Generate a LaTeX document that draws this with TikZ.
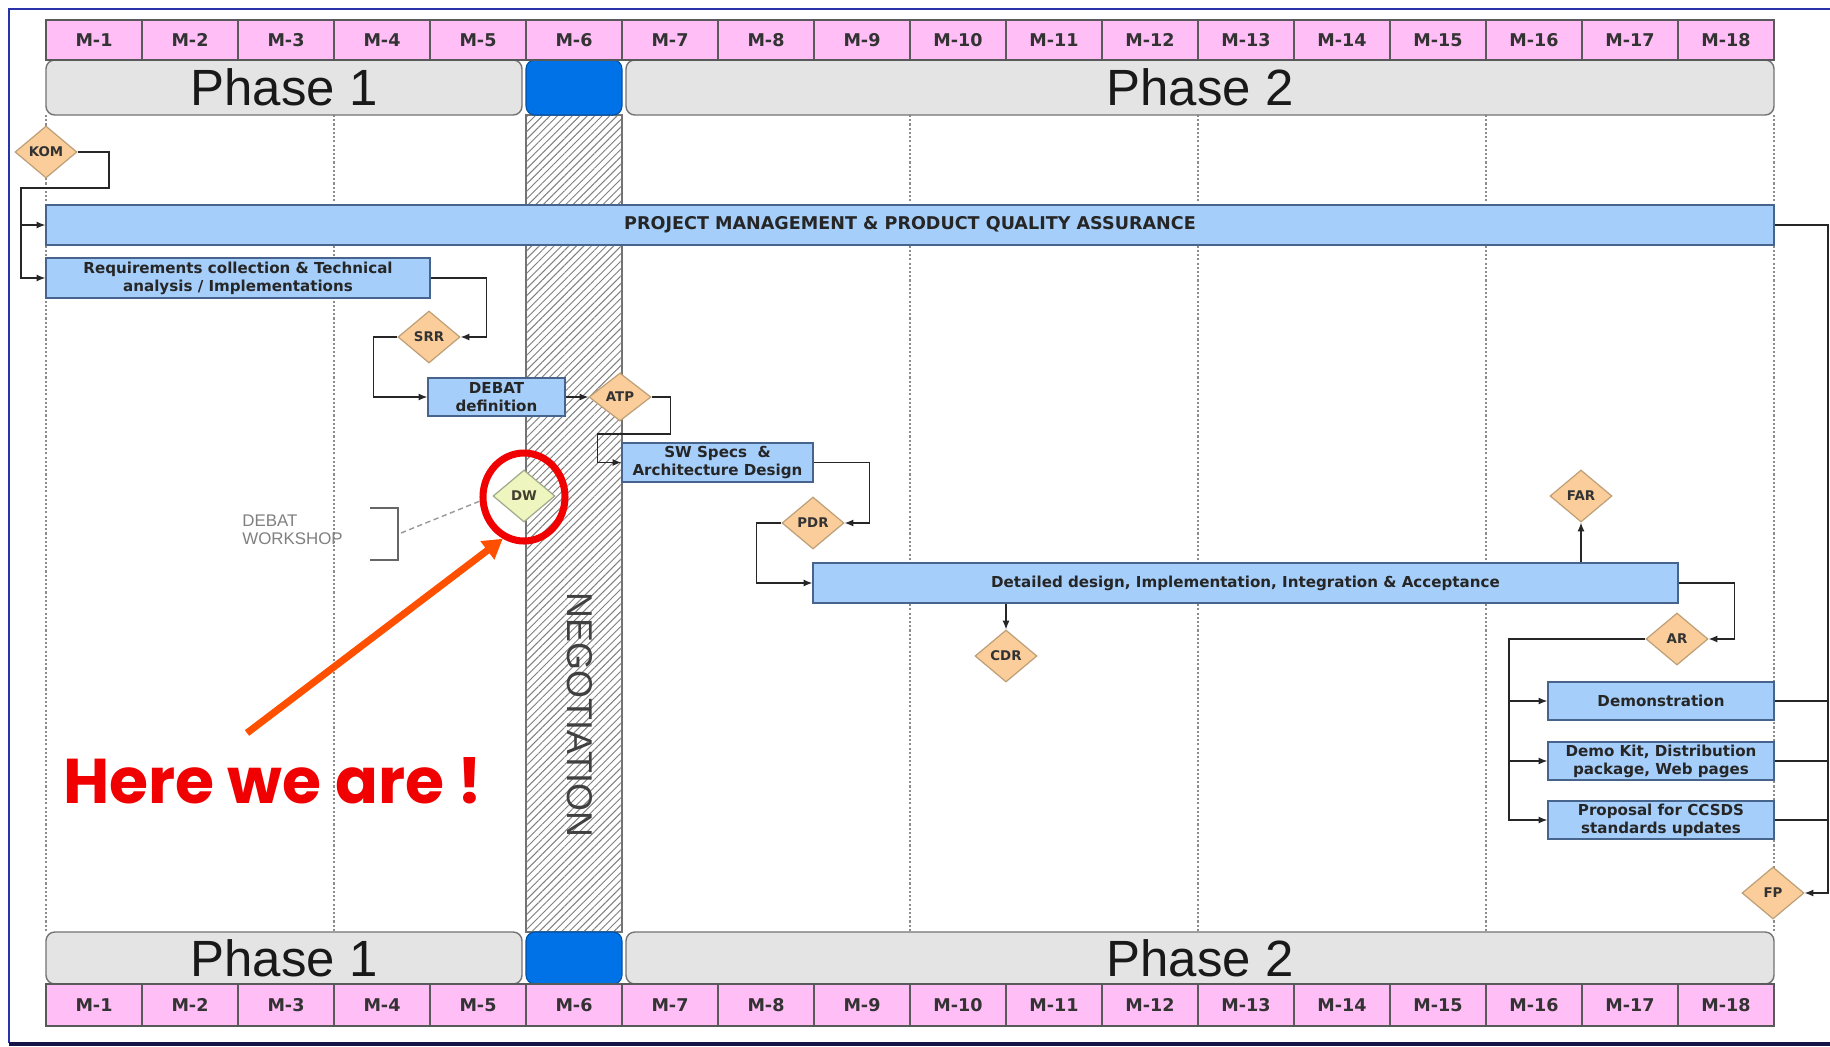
\documentclass[tikz,border=0pt]{standalone}
\usepackage{fontspec}
\setmainfont{DejaVu Sans}
\newfontfamily\arialfont{Liberation Sans}
\newfontfamily\handfont{Poppins}
\usetikzlibrary{shapes.geometric,arrows.meta,patterns.meta,calc}

\newdimen\pxu \pxu=0.02cm

\definecolor{monthpink}{RGB}{255,190,246}
\definecolor{phasegray}{RGB}{228,228,228}
\definecolor{negblue}{RGB}{0,114,232}
\definecolor{taskblue}{RGB}{166,206,250}
\definecolor{taskedge}{RGB}{70,100,140}
\definecolor{milefill}{RGB}{251,205,155}
\definecolor{mileedge}{RGB}{190,160,120}
\definecolor{dwfill}{RGB}{238,245,190}
\definecolor{dwedge}{RGB}{160,170,140}
\definecolor{framecol}{RGB}{40,50,170}
\definecolor{framedark}{RGB}{20,20,70}
\definecolor{pointer}{RGB}{255,80,0}
\definecolor{ringred}{RGB}{240,0,0}

\tikzset{
  month/.style={draw=black!65, fill=monthpink, line width=0.7pt, minimum width=96\pxu,
    minimum height=40\pxu, inner sep=0, font=\fontsize{10}{12}\selectfont\bfseries, text=black!80},
  phasebar/.style={draw=black!55, fill=phasegray, rounded corners=5pt, line width=0.8pt,
    minimum height=55\pxu, inner sep=0, font=\arialfont\fontsize{29}{30}\selectfont, text=black!90},
  negbox/.style={draw=negblue!70!black, fill=negblue, rounded corners=5pt, line width=0.6pt,
    minimum height=55\pxu, minimum width=96\pxu, inner sep=0},
  task/.style={draw=taskedge, fill=taskblue, line width=0.8pt, inner sep=0, align=center,
    font=\fontsize{8.6}{10.2}\selectfont\bfseries, text=black!85},
  mile/.style={diamond, draw=mileedge, fill=milefill, line width=0.7pt, inner sep=0,
    minimum width=62\pxu, minimum height=52\pxu, font=\fontsize{7.6}{9}\selectfont\bfseries, text=black!80},
  conn/.style={draw=black!85, line width=0.7pt, -{Latex[length=5pt,width=4pt]}},
  link/.style={draw=black!85, line width=0.7pt},
  gridline/.style={draw=black!45, line width=0.6pt, dash pattern=on 1.2pt off 1.2pt},
}

\begin{document}
\begin{tikzpicture}[x=0.02cm,y=-0.02cm]
  \useasboundingbox (0,0) rectangle (1830,1046);
  \fill[white] (0,0) rectangle (1830,1046);

  % outer frame
  \draw[draw=framecol, line width=1.2pt] (9,1043) -- (9,9) -- (1840,9);
  \draw[draw=framedark, line width=2.4pt] (9,1044) -- (1840,1044);

  % quarter grid
  \foreach \gx in {46,334,910,1198,1486,1774}
    \draw[gridline] (\gx,115) -- (\gx,932);

  % negotiation band
  \node[draw=black!55, line width=0.7pt, pattern={Lines[angle=45,distance=3pt,line width=0.55pt]},
        pattern color=black!50, minimum width=96\pxu, minimum height=817\pxu, inner sep=0]
        (neg) at (574,523.5) {};
  \node[rotate=-90, inner sep=0, font=\arialfont\fontsize{20.4}{22}\selectfont, text=black!75]
        (negtext) at (580,715) {NEGOTIATION};

  % phase bars
  \node[phasebar, minimum width=476\pxu] (p1top) at (284,87.5) {Phase 1};
  \node[negbox] (ntop) at (574,87.5) {};
  \node[phasebar, minimum width=1148\pxu] (p2top) at (1200,87.5) {Phase 2};
  \node[phasebar, minimum width=476\pxu, minimum height=52\pxu] (p1bot) at (284,958) {Phase 1};
  \node[negbox, minimum height=52\pxu] (nbot) at (574,958) {};
  \node[phasebar, minimum width=1148\pxu, minimum height=52\pxu] (p2bot) at (1200,958) {Phase 2};

  % month rows
  \foreach \i in {1,...,18} {
    \node[month] (mt\i) at ({94+96*(\i-1)},40) {M-\i};
    \node[month, minimum height=42\pxu] (mb\i) at ({94+96*(\i-1)},1005) {M-\i};
  }

  % activities
  \node[task, minimum width=1728\pxu, minimum height=40\pxu, font=\fontsize{10}{12}\selectfont\bfseries]
        (PM) at (910,225) {PROJECT MANAGEMENT \& PRODUCT QUALITY ASSURANCE};
  \node[task, minimum width=384\pxu, minimum height=40\pxu] (Req) at (238,278)
        {Requirements collection \& Technical\\analysis / Implementations};
  \node[task, minimum width=137\pxu, minimum height=38\pxu] (DEBAT) at (496.5,397) {DEBAT\\definition};
  \node[task, minimum width=191\pxu, minimum height=39\pxu] (SW) at (717.5,462.5)
        {SW Specs~~\&\\Architecture Design};
  \node[task, minimum width=865\pxu, minimum height=40\pxu] (Det) at (1245.5,583)
        {Detailed design, Implementation, Integration \& Acceptance};
  \node[task, minimum width=226\pxu, minimum height=38\pxu] (Demo) at (1661,701) {Demonstration};
  \node[task, minimum width=226\pxu, minimum height=38\pxu] (Kit) at (1661,761)
        {Demo Kit, Distribution\\package, Web pages};
  \node[task, minimum width=226\pxu, minimum height=38\pxu] (Prop) at (1661,820)
        {Proposal for CCSDS\\standards updates};

  % milestones
  \node[mile] (KOM) at (46,152) {KOM};
  \node[mile] (SRR) at (429,337) {SRR};
  \node[mile, minimum height=48\pxu] (ATP) at (620,397) {ATP};
  \node[mile] (PDR) at (813,523) {PDR};
  \node[mile] (CDR) at (1006,656) {CDR};
  \node[mile] (FAR) at (1581,496) {FAR};
  \node[mile] (AR) at (1677,639) {AR};
  \node[mile] (FP) at (1773,893) {FP};
  \node[mile, fill=dwfill, draw=dwedge, text=black!70!olive] (DW) at (524,496) {DW};

  % flow
  \coordinate (kA) at (109,188);
  \coordinate (kB) at (21,188);
  \draw[conn] (KOM.east) -| (kA) -- (kB) |- (Req.west);
  \draw[conn] (kB) |- (PM.west);
  \draw[conn] (Req.east) -| ([xshift=26\pxu]SRR.east) -- (SRR.east);
  \draw[conn] (SRR.west) -- ++(-24,0) |- (DEBAT.west);
  \draw[conn] (DEBAT.east) -- (ATP.west);
  \draw[conn] (ATP.east) -- ++(19,0) -- ++(0,37) -| ([xshift=-24\pxu]SW.west) -- (SW.west);
  \draw[conn] (SW.east) -| ([xshift=25\pxu]PDR.east) -- (PDR.east);
  \draw[conn] (PDR.west) -- ++(-25,0) |- (Det.west);
  \draw[conn] (Det.south -| CDR.north) -- (CDR.north);
  \draw[conn] (Det.north -| FAR.south) -- (FAR.south);
  \draw[conn] (Det.east) -| ([xshift=26\pxu]AR.east) -- (AR.east);
  \coordinate (aJ) at (1509,639);
  \draw[conn] (AR.west) -- (aJ) |- (Prop.west);
  \draw[conn] (aJ) |- (Demo.west);
  \draw[conn] (aJ) |- (Kit.west);
  \coordinate (rJ) at (1828,225);
  \draw[conn] (PM.east) -- (rJ) |- (FP.east);
  \draw[link] (Demo.east) -- (Demo.east -| rJ);
  \draw[link] (Kit.east) -- (Kit.east -| rJ);
  \draw[link] (Prop.east) -- (Prop.east -| rJ);

  % workshop note
  \node[anchor=north west, inner sep=0, align=left, font=\arialfont\fontsize{9.6}{9.8}\selectfont,
        text=black!50] (dwlabel) at (242,515) {DEBAT\\WORKSHOP};
  \coordinate (brT) at (370,508);
  \coordinate (brB) at (370,560);
  \coordinate (brM) at (401,533);
  \draw[draw=black!60, line width=0.8pt] (brT) -- ++(28,0) -- ++(0,52) -- (brB);
  \draw[draw=black!40, line width=0.8pt, dash pattern=on 3pt off 2pt, shorten >=5pt] (brM) -- (DW.west);

  % highlight
  \node[ellipse, draw=ringred, line width=4pt, minimum width=82\pxu, minimum height=88\pxu, inner sep=0]
        (ring) at (524,497) {};
  \coordinate (ptail) at (247,733);
  \draw[draw=pointer, line width=4pt, -{Triangle[length=11pt,width=12.5pt]}] (ptail) -- (ring.243);
  \node[anchor=base west, inner sep=0, text=ringred, font=\handfont\bfseries\fontsize{36}{40}\selectfont]
        (here) at (63,803) {Here we are !};
\end{tikzpicture}
\end{document}
